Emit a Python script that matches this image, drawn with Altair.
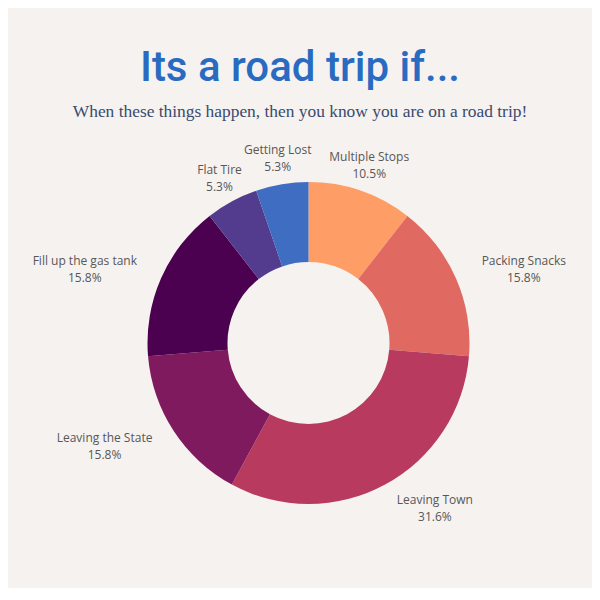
import altair as alt
import pandas as pd

categories = ["Multiple Stops", "Packing Snacks", "Leaving Town", "Leaving the State",
              "Fill up the gas tank", "Flat Tire", "Getting Lost"]
counts = [2, 3, 6, 3, 3, 1, 1]
colors = ["#FF9D66", "#E06A61", "#B83B5F", "#801A5E", "#4B0050", "#533C8E", "#3E6DC2"]

W, H = 560, 400
df = pd.DataFrame({"category": categories, "value": counts, "idx": list(range(len(categories)))})
total = sum(counts)

theta_scale = alt.Scale(domain=[0, total])

base = alt.Chart(df).transform_joinaggregate(
    total="sum(value)"
).transform_window(
    cum="sum(value)", sort=[alt.SortField("idx")]
).transform_calculate(
    ang="2 * PI * (datum.cum - datum.value / 2) / datum.total",
    label="datum.category + '\\n' + format(datum.value / datum.total, '.1%')",
)

arc = base.mark_arc(innerRadius=81, outerRadius=161).encode(
    theta=alt.Theta("value:Q", stack=True, scale=theta_scale),
    color=alt.Color("category:N", scale=alt.Scale(domain=categories, range=colors), legend=None),
    order=alt.Order("idx:Q"),
)

R = 187
labels = base.transform_calculate(
    side="cos(datum.ang) > 0.8 ? 0 : (sin(datum.ang) > 0 ? 1 : -1)",
    tw="6.7 * (length(datum.category) - (length(datum.category) - length(replace(datum.category, regexp('[iljtfr ]', 'g'), ''))) / 2)",
).transform_calculate(
    lx=f"{W / 2} + {R} * sin(datum.ang) + datum.side * (datum.tw / 2 + 0.5)",
    ly=f"{H / 2} - {R} * cos(datum.ang) + (datum.side == 0 ? -0.5 : 1.5)",
).mark_text(
    font="Open Sans", fontSize=12, color="#575757", lineBreak="\n", lineHeight=17,
    baseline="middle", align="center", dy=-8.5,
).encode(
    x=alt.X("lx:Q", scale=None),
    y=alt.Y("ly:Q", scale=None),
    text="label:N",
)

chart = alt.layer(arc, labels).properties(
    width=W,
    height=H,
    padding={"left": 20.5, "top": 135, "right": 3.5, "bottom": 45},
    autosize=alt.AutoSizeParams(type="none"),
    title=alt.Title(
        text="Its a road trip if...",
        subtitle="When these things happen, then you know you are on a road trip!",
        anchor="middle",
        dx=-8.5,
        font="Roboto",
        fontSize=42,
        fontWeight=500,
        color="#2A6BC2",
        subtitleFont="Liberation Serif",
        subtitleFontSize=17.4,
        subtitleColor="#3A4A6E",
        subtitlePadding=13,
        offset=22,
    ),
).configure(background="#F6F2EF").configure_view(stroke=None)

chart.save("out.html", embed_options={"renderer": "svg", "actions": False})
